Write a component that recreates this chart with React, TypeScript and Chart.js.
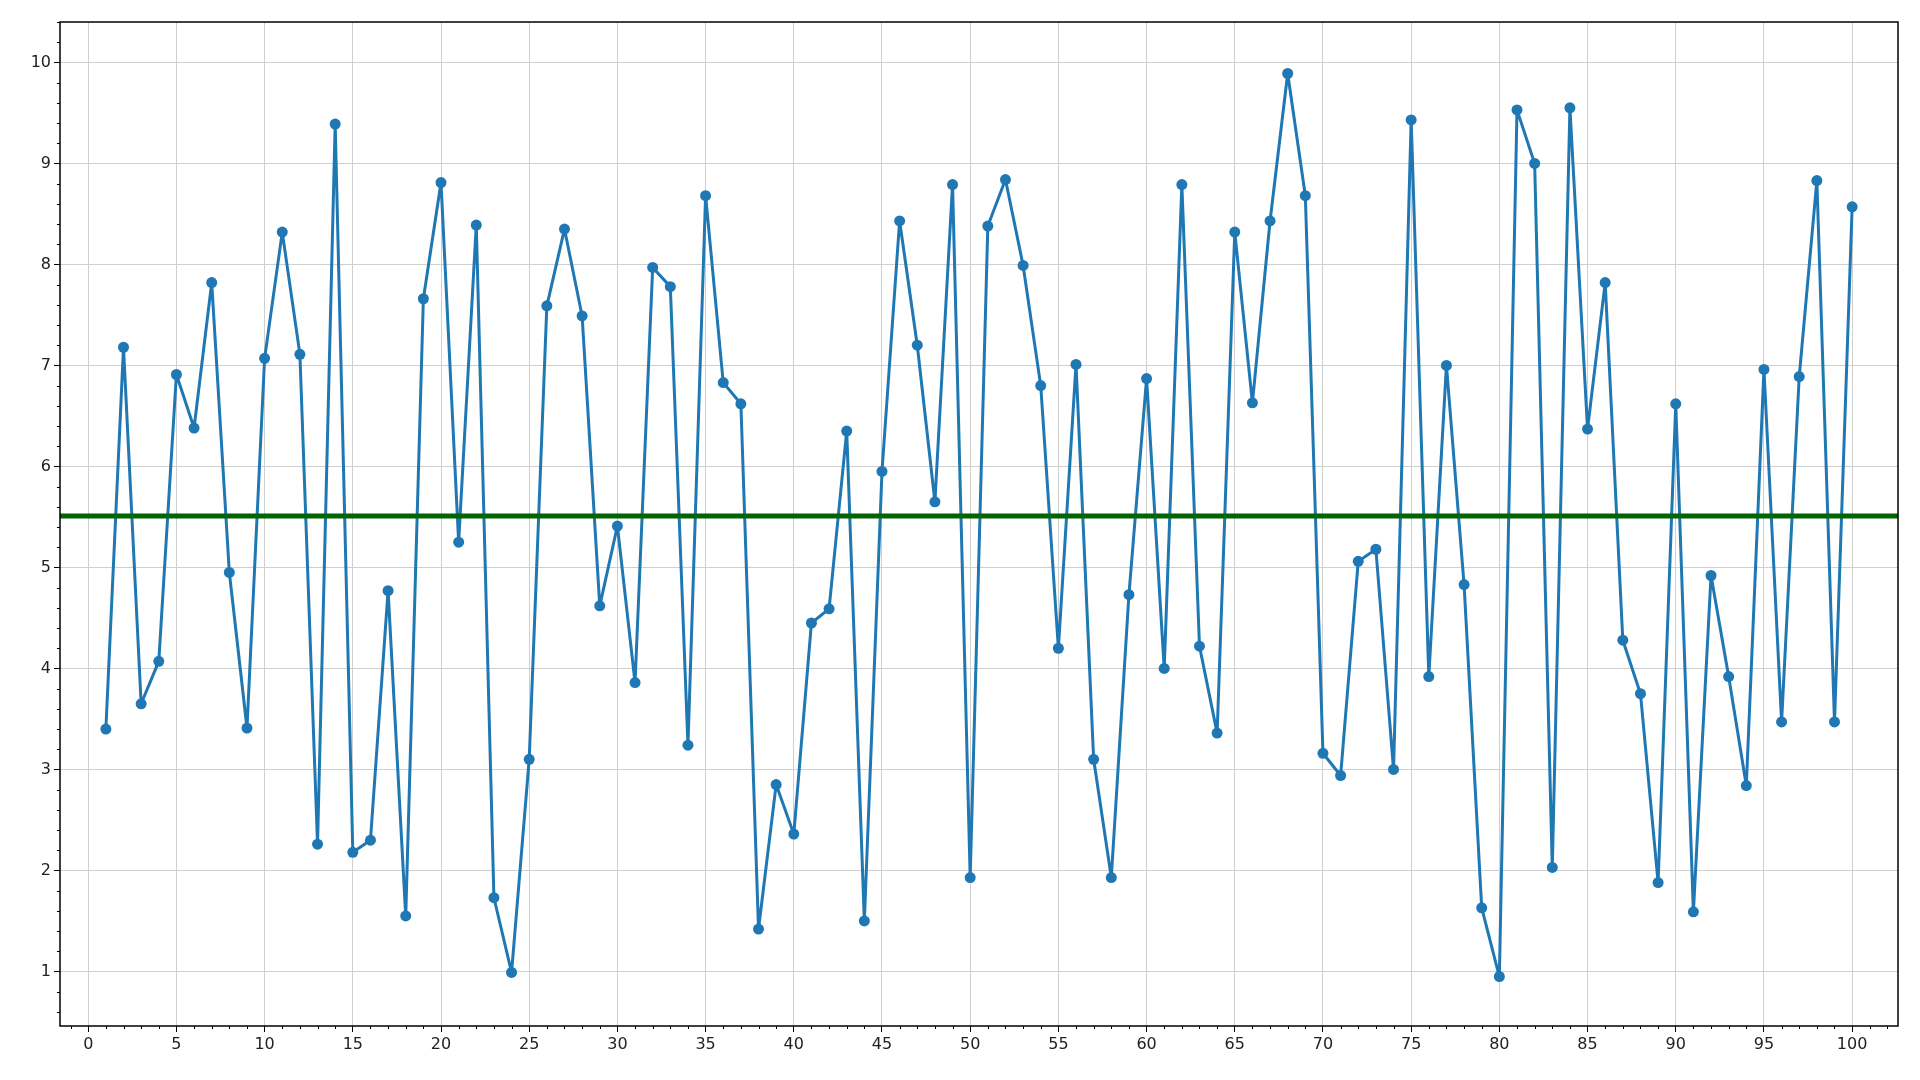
import { useEffect, useRef } from 'react';
import Chart from 'chart.js/auto';

const xValues = [
  1, 2, 3, 4, 5, 6, 7, 8, 9, 10, 11, 12, 13, 14, 15, 16, 17, 18, 19, 20,
  21, 22, 23, 24, 25, 26, 27, 28, 29, 30, 31, 32, 33, 34, 35, 36, 37, 38, 39, 40,
  41, 42, 43, 44, 45, 46, 47, 48, 49, 50, 51, 52, 53, 54, 55, 56, 57, 58, 59, 60,
  61, 62, 63, 64, 65, 66, 67, 68, 69, 70, 71, 72, 73, 74, 75, 76, 77, 78, 79, 80,
  81, 82, 83, 84, 85, 86, 87, 88, 89, 90, 91, 92, 93, 94, 95, 96, 97, 98, 99, 100
];

const yValues = [
  3.40, 7.18, 3.65, 4.07, 6.91, 6.38, 7.82, 4.95, 3.41, 7.07,
  8.32, 7.11, 2.26, 9.39, 2.18, 2.30, 4.77, 1.55, 7.66, 8.81,
  5.25, 8.39, 1.73, 0.99, 3.10, 7.59, 8.35, 7.49, 4.62, 5.41,
  3.86, 7.97, 7.78, 3.24, 8.68, 6.83, 6.62, 1.42, 2.85, 2.36,
  4.45, 4.59, 6.35, 1.50, 5.95, 8.43, 7.20, 5.65, 8.79, 1.93,
  8.38, 8.84, 7.99, 6.80, 4.20, 7.01, 3.10, 1.93, 4.73, 6.87,
  4.00, 8.79, 4.22, 3.36, 8.32, 6.63, 8.43, 9.89, 8.68, 3.16,
  2.94, 5.06, 5.18, 3.00, 9.43, 3.92, 7.00, 4.83, 1.63, 0.95,
  9.53, 9.00, 2.03, 9.55, 6.37, 7.82, 4.28, 3.75, 1.88, 6.62,
  1.59, 4.92, 3.92, 2.84, 6.96, 3.47, 6.89, 8.83, 3.47, 8.57
];

const meanLevel = 5.51;

const xTicks = [0, 5, 10, 15, 20, 25, 30, 35, 40, 45, 50, 55, 60, 65, 70, 75, 80, 85, 90, 95, 100];
const yTicks = [1, 2, 3, 4, 5, 6, 7, 8, 9, 10];
const xRange = [-1.6, 102.6];
const yRange = [0.46, 10.4];
const xMinorStep = 1;
const yMinorStep = 0.2;

const frameAndMinorTicks = {
  id: 'frameAndMinorTicks',
  afterDraw(chart: any) {
    const { ctx, chartArea } = chart;
    const xs = chart.scales.x;
    const ys = chart.scales.y;
    ctx.save();
    ctx.strokeStyle = '#000';
    ctx.lineWidth = 1;
    ctx.beginPath();
    for (let v = Math.ceil(xs.min); v <= xs.max; v += xMinorStep) {
      if (xTicks.includes(v)) continue;
      const px = Math.round(xs.getPixelForValue(v)) + 0.5;
      ctx.moveTo(px, chartArea.bottom);
      ctx.lineTo(px, chartArea.bottom + 3);
    }
    const start = Math.ceil(ys.min / yMinorStep) * yMinorStep;
    for (let v = start; v <= ys.max + 1e-9; v += yMinorStep) {
      const r = Math.round(v * 10) / 10;
      if (Math.abs(r - Math.round(r)) < 1e-6) continue;
      const py = Math.round(ys.getPixelForValue(r)) + 0.5;
      ctx.moveTo(chartArea.left, py);
      ctx.lineTo(chartArea.left - 3, py);
    }
    ctx.stroke();
    ctx.lineWidth = 1.5;
    ctx.strokeRect(chartArea.left, chartArea.top, chartArea.right - chartArea.left, chartArea.bottom - chartArea.top);
    ctx.restore();
  }
};

export default function App() {
  const ref = useRef<HTMLCanvasElement | null>(null);

  useEffect(() => {
    if (!ref.current) return;
    const tickFont = { family: 'DejaVu Sans', size: 16 };
    const chart = new Chart(ref.current, {
      type: 'line',
      data: {
        datasets: [
          {
            label: 'mean',
            data: [
              { x: xRange[0], y: meanLevel },
              { x: xRange[1], y: meanLevel }
            ],
            borderColor: '#006400',
            borderWidth: 5,
            pointRadius: 0,
            order: 0
          },
          {
            label: 'values',
            data: xValues.map((x, i) => ({ x, y: yValues[i] })),
            borderColor: '#1f77b4',
            backgroundColor: '#1f77b4',
            borderWidth: 3,
            borderJoinStyle: 'round',
            borderCapStyle: 'round',
            pointRadius: 5.5,
            pointBorderWidth: 0,
            pointBackgroundColor: '#1f77b4',
            tension: 0,
            order: 1
          }
        ]
      },
      options: {
        animation: false,
        responsive: true,
        maintainAspectRatio: false,
        layout: { padding: { top: 22, right: 22, left: 0, bottom: 0 } },
        plugins: {
          legend: { display: false },
          tooltip: { enabled: false }
        },
        scales: {
          x: {
            type: 'linear',
            min: xRange[0],
            max: xRange[1],
            afterBuildTicks: (scale: any) => {
              scale.ticks = xTicks.map((value) => ({ value }));
            },
            afterFit: (scale: any) => {
              scale.height = 54;
            },
            ticks: { color: '#222', font: tickFont, padding: 3, maxRotation: 0, autoSkip: false },
            grid: { color: '#cfcfcf', lineWidth: 1, tickLength: 6, tickColor: '#000', tickWidth: 1 },
            border: { display: false }
          },
          y: {
            type: 'linear',
            min: yRange[0],
            max: yRange[1],
            afterBuildTicks: (scale: any) => {
              scale.ticks = yTicks.map((value) => ({ value }));
            },
            afterFit: (scale: any) => {
              scale.width = 60;
            },
            ticks: { color: '#222', font: tickFont, padding: 3 },
            grid: { color: '#cfcfcf', lineWidth: 1, tickLength: 6, tickColor: '#000', tickWidth: 1 },
            border: { display: false }
          }
        }
      },
      plugins: [frameAndMinorTicks]
    });
    return () => chart.destroy();
  }, []);

  return (
    <div style={{ position: 'absolute', left: 0, top: 0, width: 1920, height: 1080, background: '#fff' }}>
      <canvas ref={ref} aria-label="Line chart of 100 values with mean line" />
    </div>
  );
}
